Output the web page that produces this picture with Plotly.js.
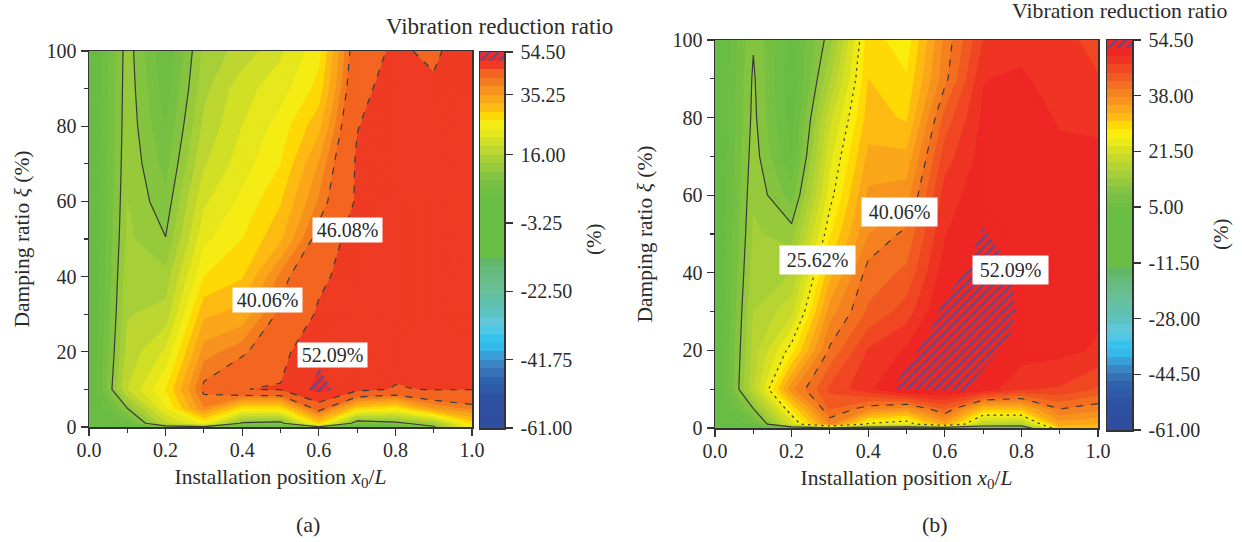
<!DOCTYPE html>
<html><head><meta charset="utf-8">
<script src="https://cdn.plot.ly/plotly-3.0.1.min.js"></script>
<style>html,body{margin:0;padding:0;background:#fff}#c{width:1242px;height:542px}</style>
</head><body><div id="c"></div>
<script>
// ---------- data ----------
const positions = [0,0.1,0.2,0.3,0.4,0.5,0.6,0.7,0.8,0.9,1.0];
const dampingTopDown = [100,90,80,70,60,50,40,30,20,10,5,1,0];

// panel (a): reduction ratio per installation position, listed from damping 100 down to 0
const a00 = [0,0,0,0,0,0,0,0,0,0,0,0,0];
const a01 = [12.6,12.8,13,13.3,13.7,14.2,15,15.8,17,18.7,11.2,5,1];
const a02 = [4,5.1,6.3,7.8,9.4,11.3,14.5,17,22,27,24,18,8.3];
const a03 = [14.3,15.2,16.7,18.4,21,23.5,27,32,36.5,41,37.5,25,10];
const a04 = [17,20.5,21.5,23,25,27,29.5,33.5,39.2,46,27.4,10.5,5];
const a05 = [21,23,25.5,27,29.5,32,38.5,41,44.5,46.4,27.4,9.5,4];
const a06 = [26,28,31.6,35.5,38,41.8,45,46.8,50.3,54,42.4,29,10];
const a07 = [43.3,44.5,45.9,46.8,46.8,49,48.5,48.5,49.5,47.5,29,8,3];
const a08 = [47,48.3,49,49.5,50,50,50,50,48,45.8,26.7,10,3];
const a09 = [45,47,48,48,48,48,48,48,47.5,46.3,35.5,14,10.5];
const a10 = [50,50,50,50,50,50,50,50,48,46.2,38.5,28,26];

// panel (b)
const b00 = [0,0,0,0,0,0,0,0,0,0,0,0,0];
const b01 = [10.9,11.65,12,12.6,13.3,14,14.9,16,17,18,11.19,5,1];
const b02 = [3,2,2.5,4,7.6,12.5,16,20,27,37,28.4,22,6.6];
const b03 = [12.6,15.7,19.9,22.5,24.5,27.7,32,36.5,40.6,45.5,43,38,11];
const b04 = [29.3,30.4,31.5,33.5,35.8,37.6,41.2,42.9,47.5,49,38.6,25,7];
const b05 = [26.5,28.3,30,33.5,36.5,40.8,43,46,50,53.75,36.2,23,6];
const b06 = [38.3,39.2,43.4,46.1,48.4,49.5,51,52.5,53.5,52.9,43,34,6];
const b07 = [47.2,49.5,50.2,50.7,51.2,52.5,54,54.3,54,51.2,31.3,17.9,4];
const b08 = [48.3,50.2,50.8,51.3,51.2,50.8,50.9,51.6,51,47.5,32,17,4];
const b09 = [47.5,47.8,49.4,50.1,50.4,50.3,50.6,50.9,50.4,47,40.2,34,31];
const b10 = [47,47.3,49.2,50,50.2,50.2,50.2,50,49.3,44.5,38.5,33,31];

// colour bands, bottom of the colour bar upward
const lowerColors = ['#304e9f','#304e9f','#2f4fa0','#2e52a2','#2f5aa8','#2f62ad','#3670b5','#3b85c5','#3a9fd8','#35b8ea','#35c3ee','#4fc8e6','#60c7d8','#5cc3be','#60c1b0','#66c0a2','#67bf93','#68bd86','#66bb7a','#62b867','#6abd45','#6abd45','#6abd45','#6abd45','#6abd45','#6abd45','#6abd45','#6fbe44','#77c043','#85c440','#96ca3c','#a7cf38'];
const upperColorsA = ['#bdd631','#d1df26','#e6e71c','#f5ec15','#ffd905','#fdbb13','#fba71a','#f7941e','#f47c20','#f36621','#ef3b23','#ee2c27'];
const upperColorsB = ['#b8d433','#c7da2c','#d9e121','#ecea18','#fbed0c','#ffd905','#fdbb13','#fba71a','#f7941e','#f58220','#f36f21','#f15a22','#f04723','#ef3424','#ee2724','#ee2724'];
const upperLevelsA = [18.75,21.5,24.25,27,29.75,32.5,35.25,37.65,40.06,46.08,52.09,54.5];
const stepB = 2.40625;

const tickValuesA = ['-61.00','-41.75','-22.50','-3.25','16.00','35.25','54.50'];
const tickBandsA = [0,8,16,24,32,39,44];
const tickValuesB = ['-61.00','-44.50','-28.00','-11.50','5.00','21.50','38.00','54.50'];
const tickBandsB = [0,7,14,21,28,35,42,49];

const isoSolid = 11.19;
const isoDashA = [40.06,46.08];
const isoDashB = [40.06];
const isoDotB = [25.62];

const hatchAx = [0.571,0.602,0.635,0.604,0.571];
const hatchAy = [10,15.6,10,9.2,10];
const hatchBx = [0.70,0.684,0.666,0.597,0.566,0.544,0.492,0.465,0.65,0.767,0.784,0.778,0.74,0.70];
const hatchBy = [52,48.2,42,33,26,22,14.7,10,9.6,22.4,30,36,46,52];

const axisLabels = ['0.0','0.2','0.4','0.6','0.8','1.0'];

// ---------- build ----------
const W = 1242, H = 542, FONT = 'Liberation Serif', INK = '#2b2b2b', LINE = '#333333';
const transpose = cols => cols[0].map((_, r) => cols.map(c => c[r]));
const dampingUp = dampingTopDown.slice().reverse();
const zOf = cols => transpose(cols).reverse();
const zA = zOf([a00,a01,a02,a03,a04,a05,a06,a07,a08,a09,a10]);
const zB = zOf([b00,b01,b02,b03,b04,b05,b06,b07,b08,b09,b10]);

const lowerLevels = lowerColors.map((_, i) => -61 + (i + 1) * stepB);
const levelsA = lowerLevels.concat(upperLevelsA);
const colorsA = lowerColors.concat(upperColorsA);
const colorsB = lowerColors.concat(upperColorsB);
const levelsB = colorsB.map((_, i) => -61 + (i + 1) * stepB);

function stepScale(levels, colors) {
  const out = []; let prev = 0;
  levels.forEach((lv, i) => {
    const f = Math.min(1, (lv + 61) / 115.5);
    out.push([prev, colors[i]], [f, colors[i]]);
    prev = f;
  });
  out[out.length - 1][0] = 1;
  return out;
}
function bandScale(colors) {
  const n = colors.length, out = [];
  colors.forEach((c, i) => { out.push([i / n, c], [(i + 1) / n, c]); });
  return out;
}
const filled = (z, scale, xa, ya) => ({
  type: 'contour', x: positions, y: dampingUp, z, xaxis: xa, yaxis: ya,
  autocontour: false, zmin: -61, zmax: 54.5,
  contours: {start: -61, end: 54.5, size: 0.125, coloring: 'fill', showlines: false},
  line: {width: 0, smoothing: 0}, colorscale: scale, showscale: false, hoverinfo: 'skip'
});
const iso = (z, level, dash, xa, ya) => ({
  type: 'contour', x: positions, y: dampingUp, z, xaxis: xa, yaxis: ya,
  autocontour: false, showscale: false, hoverinfo: 'skip',
  contours: {start: level, end: level, size: 1, coloring: 'none', showlines: true},
  line: {color: '#3a3a3a', width: 1.2, dash, smoothing: 0}
});
const hatchPattern = {shape: '/', fgcolor: '#3b54a4', bgcolor: 'rgba(0,0,0,0)', size: 6.6, solidity: 0.27};
const hatch = (x, y, xa, ya) => ({
  type: 'scatter', mode: 'lines', x, y, xaxis: xa, yaxis: ya, fill: 'toself',
  fillcolor: 'rgba(0,0,0,0)', fillpattern: hatchPattern, line: {width: 0}, hoverinfo: 'skip', showlegend: false
});
const bar = (colors, xa, ya) => ({
  type: 'heatmap', x: [0.5], y: colors.map((_, i) => i + 0.5), z: colors.map((_, i) => [i]),
  xaxis: xa, yaxis: ya, zmin: -0.5, zmax: colors.length - 0.5,
  colorscale: bandScale(colors), showscale: false, hoverinfo: 'skip', xgap: 0, ygap: 0
});

const DASH = '7px,8px', DOT = '2.5px,4px';
const data = [
  filled(zA, stepScale(levelsA, colorsA), 'x', 'y'),
  iso(zA, isoSolid, 'solid', 'x', 'y'),
  ...isoDashA.map(l => iso(zA, l, DASH, 'x', 'y')),
  hatch(hatchAx, hatchAy, 'x', 'y'),
  filled(zB, stepScale(levelsB, colorsB), 'x2', 'y2'),
  iso(zB, isoSolid, 'solid', 'x2', 'y2'),
  ...isoDashB.map(l => iso(zB, l, DASH, 'x2', 'y2')),
  ...isoDotB.map(l => iso(zB, l, DOT, 'x2', 'y2')),
  hatch(hatchBx, hatchBy, 'x2', 'y2'),
  bar(colorsA, 'x3', 'y3'),
  hatch([0,1,1,0,0], [colorsA.length-1,colorsA.length-1,colorsA.length,colorsA.length,colorsA.length-1], 'x3', 'y3'),
  bar(colorsB, 'x4', 'y4'),
  hatch([0,1,1,0,0], [colorsB.length-1,colorsB.length-1,colorsB.length,colorsB.length,colorsB.length-1], 'x4', 'y4')
];

const dx = (a, b) => [a / W, b / W];
const dy = (top, bot) => [1 - bot / H, 1 - top / H];
const tf = {family: FONT, size: 20, color: INK};
const titleFont = {family: FONT, size: 21.5, color: INK};
const xAxis = (dom, anchor) => ({
  domain: dom, anchor, range: [0, 1], tickvals: [0,0.2,0.4,0.6,0.8,1], ticktext: axisLabels, ticklabelstandoff: -3,
  ticks: 'outside', ticklen: 7, tickwidth: 1.3, tickcolor: LINE, showline: true, linecolor: LINE, linewidth: 1.5, mirror: true,
  showgrid: false, zeroline: false, tickfont: tf,
  minor: {tickvals: [0.1,0.3,0.5,0.7,0.9], ticks: 'outside', ticklen: 4, tickwidth: 1.1, tickcolor: LINE, showgrid: false},
  title: {text: 'Installation position <i>x</i><sub>0</sub>/<i>L</i>', font: titleFont, standoff: 9}
});
const yAxis = (dom, anchor, off) => ({
  domain: dom, anchor, range: [0, 100], dtick: 20, tick0: 0,
  ticks: 'outside', ticklen: 7, tickwidth: 1.3, tickcolor: LINE, showline: true, linecolor: LINE, linewidth: 1.5, mirror: true,
  showgrid: false, zeroline: false, tickfont: tf,
  minor: {dtick: 10, ticks: 'outside', ticklen: 4, tickwidth: 1.1, tickcolor: LINE, showgrid: false},
  title: {text: 'Damping ratio <i>ξ</i> (%)', font: titleFont, standoff: off}
});
const cbX = (dom, anchor) => ({domain: dom, anchor, range: [0, 1], showticklabels: false, ticks: '', showgrid: false, zeroline: false, showline: true, mirror: true, linecolor: LINE, linewidth: 1.5});
const cbY = (dom, anchor, n, vals, text) => ({
  domain: dom, anchor, side: 'right', range: [0, n], tickmode: 'array', tickvals: vals, ticktext: text, ticklabelstandoff: 4,
  ticks: 'outside', ticklen: 7, tickwidth: 1.3, tickcolor: LINE, showline: true, mirror: true, linecolor: LINE, linewidth: 1.5,
  showgrid: false, zeroline: false, tickfont: tf
});

const label = (text, cx, cy, w, h) => ({
  text, xref: 'paper', yref: 'paper', x: cx / W, y: 1 - cy / H, showarrow: false, xanchor: 'center', yanchor: 'middle',
  bgcolor: '#ffffff', width: w, height: h, borderpad: 0, font: {family: FONT, size: 20, color: INK}
});
const note = (text, cx, cy, size, angle, h) => {
  const n = {
    text, xref: 'paper', yref: 'paper', x: cx / W, y: 1 - cy / H, showarrow: false, xanchor: 'center', yanchor: 'middle',
    textangle: angle || 0, borderpad: 0, font: {family: FONT, size: size || 20, color: INK}
  };
  if (h) n.height = h;
  return n;
};

const layout = {
  width: W, height: H, margin: {l: 0, r: 0, t: 0, b: 0}, paper_bgcolor: '#fff', plot_bgcolor: '#fff', showlegend: false,
  xaxis: xAxis(dx(89, 472), 'y'), yaxis: yAxis(dy(51, 427), 'x', 11),
  xaxis2: xAxis(dx(715, 1098), 'y2'), yaxis2: yAxis(dy(40, 428), 'x2', 14),
  xaxis3: cbX(dx(480, 504), 'y3'), yaxis3: cbY(dy(52, 428), 'x3', colorsA.length, tickBandsA, tickValuesA),
  xaxis4: cbX(dx(1107, 1132), 'y4'), yaxis4: cbY(dy(40, 430), 'x4', colorsB.length, tickBandsB.map(v => v * colorsB.length / 49), tickValuesB),
  annotations: [
    label('46.08%', 347.5, 230.5, 69, 24), label('40.06%', 267.5, 300, 69, 24), label('52.09%', 332.5, 355, 69, 24),
    label('40.06%', 899.5, 212, 75, 28), label('25.62%', 817.5, 260, 75, 28), label('52.09%', 1010.5, 270, 75, 28),
    note('Vibration reduction ratio', 499, 27, 23), note('Vibration reduction ratio', 1119, 11, 21.8, 0, 22),
    note('(%)', 594, 240, 21, -90), note('(%)', 1221, 235, 21, -90),
    note('(a)', 308, 524, 22), note('(b)', 935, 524, 22)
  ]
};
Plotly.newPlot('c', data, layout, {staticPlot: true, displayModeBar: false}).then(() => {
  document.querySelectorAll('.x3title,.y3title,.x4title,.y4title').forEach(el => el.remove());
});
</script></body></html>
